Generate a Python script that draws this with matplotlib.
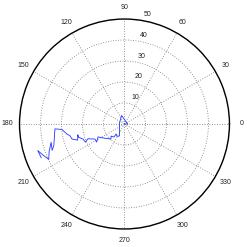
import numpy as np
import matplotlib
matplotlib.use("Agg")
import matplotlib.pyplot as plt

# ==========================
# Data: angle in degrees, radius
# ==========================

theta_deg = [0, 0, 109, 169, 247, 239, 230, 231, 222, 228,
             213, 206, 213, 207, 202, 205, 200, 196, 193, 199,
             196, 192, 190, 185, 184, 197, 200, 194, 200, 205,
             201, 197, 202]
radius = [0.0, 1.5, 4.3, 2.4, 6.2, 6.9, 6.2, 8.0, 8.6, 9.6,
          12.2, 14.0, 15.8, 15.8, 18.8, 20.5, 21.0, 22.8, 22.8, 23.6,
          26.0, 26.6, 27.8, 29.9, 33.2, 35.2, 36.7, 36.0, 38.2, 39.8,
          41.5, 43.2, 42.8]

r_ticks = [10, 20, 30, 40, 50]
theta_ticks = [0, 30, 60, 90, 120, 150, 180, 210, 240, 270, 300, 330]

plt.rcParams["font.family"] = ["Liberation Sans", "DejaVu Sans"]

fig = plt.figure(figsize=(2.47, 2.47), dpi=100)
ax = fig.add_axes([0.079, 0.073, 0.85, 0.85], projection="polar")

ax.plot(np.deg2rad(theta_deg), radius, color="#2233ff", linewidth=0.6)

ax.set_ylim(0, 50)
ax.set_yticks(r_ticks)
ax.set_yticklabels([])
ax.set_xticks(np.deg2rad(theta_ticks))
ax.set_xticklabels([str(t) for t in theta_ticks], fontsize=5, color="#222222")
ax.tick_params(axis="x", length=0, pad=1.6)
ax.tick_params(axis="y", length=0)

ax.grid(True, color="0.45", linestyle=(0, (1, 2)), linewidth=0.6)
ax.spines["polar"].set_linewidth(1.0)
ax.spines["polar"].set_color("black")

# radial labels just off the 82 degree spoke
for r in r_ticks:
    ax.annotate(str(r), xy=(np.deg2rad(82), r), xytext=(5.8, 4.0),
                textcoords="offset points", ha="center", va="center",
                fontsize=5, color="#222222")

plt.savefig("out.png", dpi=100)
